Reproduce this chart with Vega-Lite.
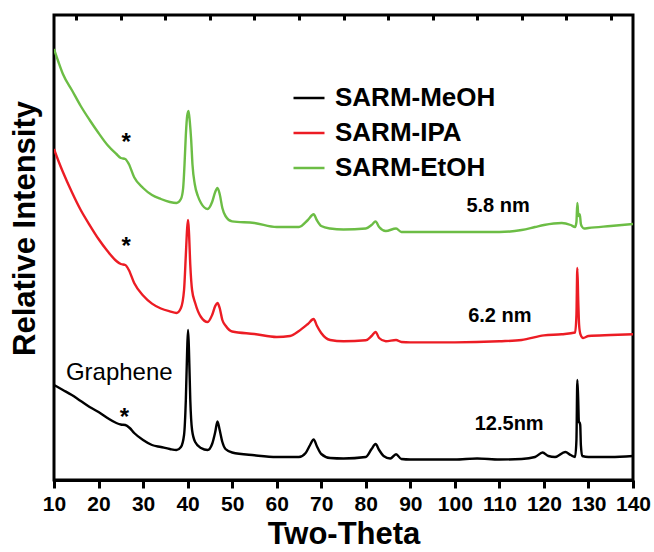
{
  "$schema": "https://vega.github.io/schema/vega-lite/v6.json",
  "width": 579,
  "height": 465,
  "autosize": "none",
  "padding": {"left": 54, "top": 15, "right": 21, "bottom": 72},
  "background": "white",
  "config": {
    "view": {"stroke": "black", "strokeWidth": 3},
    "font": "Liberation Sans",
    "legend": {
      "orient": "none", "legendX": 238, "legendY": 66, "padding": 0,
      "symbolType": "stroke", "symbolSize": 961, "symbolStrokeWidth": 2.5,
      "labelFontSize": 26, "labelFontWeight": "bold", "labelFont": "Liberation Sans",
      "labelColor": "black", "rowPadding": 5, "labelOffset": 9, "labelLimit": 400
    }
  },
  "encoding": {
    "y": {
      "field": "v", "type": "quantitative",
      "scale": {"domain": [0, 465], "nice": false, "zero": false},
      "axis": {
        "title": "Relative Intensity", "labels": false, "ticks": false, "domain": false, "grid": false,
        "titleFontSize": 31, "titleFontWeight": "bold", "titleFont": "Liberation Sans", "titleColor": "black",
        "titleX": -20, "titleY": 213, "titleAngle": -90, "titleAlign": "center", "titleBaseline": "alphabetic"
      }
    }
  },
  "layer": [
    {
      "data": {"values": [
        {"s":"SARM-MeOH","t":10,"v":95},{"s":"SARM-MeOH","t":12,"v":90},{"s":"SARM-MeOH","t":14,"v":85},{"s":"SARM-MeOH","t":16,"v":79},{"s":"SARM-MeOH","t":18,"v":73},{"s":"SARM-MeOH","t":20,"v":68},{"s":"SARM-MeOH","t":22,"v":62},{"s":"SARM-MeOH","t":24,"v":57},{"s":"SARM-MeOH","t":25,"v":55.5},{"s":"SARM-MeOH","t":26,"v":55},{"s":"SARM-MeOH","t":27,"v":52},{"s":"SARM-MeOH","t":28,"v":47},{"s":"SARM-MeOH","t":30,"v":40},{"s":"SARM-MeOH","t":32,"v":35},{"s":"SARM-MeOH","t":34,"v":33},{"s":"SARM-MeOH","t":36,"v":31},{"s":"SARM-MeOH","t":37.5,"v":30},{"s":"SARM-MeOH","t":38.5,"v":33},{"s":"SARM-MeOH","t":39.2,"v":45},{"s":"SARM-MeOH","t":39.6,"v":80},{"s":"SARM-MeOH","t":39.9,"v":130},{"s":"SARM-MeOH","t":40.1,"v":150},{"s":"SARM-MeOH","t":40.3,"v":130},{"s":"SARM-MeOH","t":40.6,"v":80},{"s":"SARM-MeOH","t":41.0,"v":50},{"s":"SARM-MeOH","t":41.7,"v":38},{"s":"SARM-MeOH","t":43,"v":32},{"s":"SARM-MeOH","t":44.5,"v":30},{"s":"SARM-MeOH","t":45.5,"v":36},{"s":"SARM-MeOH","t":46.2,"v":48},{"s":"SARM-MeOH","t":46.7,"v":58.6},{"s":"SARM-MeOH","t":47.2,"v":50},{"s":"SARM-MeOH","t":47.8,"v":38},{"s":"SARM-MeOH","t":48.5,"v":31},{"s":"SARM-MeOH","t":50,"v":27.5},{"s":"SARM-MeOH","t":55,"v":24.7},{"s":"SARM-MeOH","t":60,"v":23},{"s":"SARM-MeOH","t":65,"v":23},{"s":"SARM-MeOH","t":66.5,"v":27},{"s":"SARM-MeOH","t":67.5,"v":35},{"s":"SARM-MeOH","t":68.3,"v":40.6},{"s":"SARM-MeOH","t":69,"v":34},{"s":"SARM-MeOH","t":70,"v":26},{"s":"SARM-MeOH","t":72,"v":22},{"s":"SARM-MeOH","t":75,"v":21.5},{"s":"SARM-MeOH","t":80,"v":23},{"s":"SARM-MeOH","t":81.3,"v":31},{"s":"SARM-MeOH","t":82.2,"v":36},{"s":"SARM-MeOH","t":83,"v":30},{"s":"SARM-MeOH","t":84,"v":24},{"s":"SARM-MeOH","t":85.5,"v":21.5},{"s":"SARM-MeOH","t":86.8,"v":25.8},{"s":"SARM-MeOH","t":88,"v":21},{"s":"SARM-MeOH","t":90,"v":20.5},{"s":"SARM-MeOH","t":95,"v":20.5},{"s":"SARM-MeOH","t":100,"v":20.5},{"s":"SARM-MeOH","t":105,"v":21.5},{"s":"SARM-MeOH","t":110,"v":20.5},{"s":"SARM-MeOH","t":115,"v":21},{"s":"SARM-MeOH","t":118,"v":23},{"s":"SARM-MeOH","t":119.7,"v":27.5},{"s":"SARM-MeOH","t":121,"v":24},{"s":"SARM-MeOH","t":122.5,"v":23},{"s":"SARM-MeOH","t":124.8,"v":28},{"s":"SARM-MeOH","t":126,"v":25},{"s":"SARM-MeOH","t":127,"v":23},{"s":"SARM-MeOH","t":127.3,"v":40},{"s":"SARM-MeOH","t":127.5,"v":100},{"s":"SARM-MeOH","t":127.7,"v":80},{"s":"SARM-MeOH","t":127.85,"v":58},{"s":"SARM-MeOH","t":128.0,"v":57.5},{"s":"SARM-MeOH","t":128.15,"v":55},{"s":"SARM-MeOH","t":128.3,"v":34.6},{"s":"SARM-MeOH","t":128.6,"v":24},{"s":"SARM-MeOH","t":130,"v":23},{"s":"SARM-MeOH","t":135,"v":23},{"s":"SARM-MeOH","t":140,"v":24},

        {"s":"SARM-IPA","t":10,"v":331},{"s":"SARM-IPA","t":11,"v":319},{"s":"SARM-IPA","t":12,"v":308},{"s":"SARM-IPA","t":14,"v":288},{"s":"SARM-IPA","t":16,"v":270},{"s":"SARM-IPA","t":18,"v":255},{"s":"SARM-IPA","t":20,"v":241},{"s":"SARM-IPA","t":22,"v":229},{"s":"SARM-IPA","t":24,"v":219},{"s":"SARM-IPA","t":25,"v":216},{"s":"SARM-IPA","t":26,"v":215},{"s":"SARM-IPA","t":26.8,"v":210},{"s":"SARM-IPA","t":28,"v":197},{"s":"SARM-IPA","t":30,"v":184.5},{"s":"SARM-IPA","t":32,"v":176.4},{"s":"SARM-IPA","t":34,"v":171.5},{"s":"SARM-IPA","t":36,"v":168.6},{"s":"SARM-IPA","t":37.5,"v":167},{"s":"SARM-IPA","t":38.5,"v":172},{"s":"SARM-IPA","t":39.2,"v":190},{"s":"SARM-IPA","t":39.6,"v":225},{"s":"SARM-IPA","t":39.9,"v":252},{"s":"SARM-IPA","t":40.1,"v":260},{"s":"SARM-IPA","t":40.3,"v":248},{"s":"SARM-IPA","t":40.6,"v":215},{"s":"SARM-IPA","t":41.0,"v":190},{"s":"SARM-IPA","t":41.7,"v":177},{"s":"SARM-IPA","t":43,"v":163},{"s":"SARM-IPA","t":44.5,"v":158},{"s":"SARM-IPA","t":45.5,"v":165},{"s":"SARM-IPA","t":46.2,"v":174},{"s":"SARM-IPA","t":46.7,"v":177},{"s":"SARM-IPA","t":47.2,"v":172},{"s":"SARM-IPA","t":47.8,"v":160},{"s":"SARM-IPA","t":48.5,"v":154.5},{"s":"SARM-IPA","t":50,"v":148.5},{"s":"SARM-IPA","t":55,"v":146},{"s":"SARM-IPA","t":60,"v":143},{"s":"SARM-IPA","t":63,"v":144},{"s":"SARM-IPA","t":65,"v":149},{"s":"SARM-IPA","t":67,"v":156},{"s":"SARM-IPA","t":68.3,"v":161},{"s":"SARM-IPA","t":69,"v":154.5},{"s":"SARM-IPA","t":70,"v":147},{"s":"SARM-IPA","t":72,"v":140},{"s":"SARM-IPA","t":75,"v":138.7},{"s":"SARM-IPA","t":80,"v":139.7},{"s":"SARM-IPA","t":81.3,"v":144},{"s":"SARM-IPA","t":82.2,"v":148},{"s":"SARM-IPA","t":83,"v":142},{"s":"SARM-IPA","t":84.5,"v":138.7},{"s":"SARM-IPA","t":86.8,"v":140},{"s":"SARM-IPA","t":88,"v":138},{"s":"SARM-IPA","t":90,"v":137.6},{"s":"SARM-IPA","t":100,"v":137.6},{"s":"SARM-IPA","t":110,"v":138.7},{"s":"SARM-IPA","t":115,"v":140},{"s":"SARM-IPA","t":120,"v":144.6},{"s":"SARM-IPA","t":124,"v":145.7},{"s":"SARM-IPA","t":127,"v":147.5},{"s":"SARM-IPA","t":127.3,"v":165},{"s":"SARM-IPA","t":127.5,"v":212},{"s":"SARM-IPA","t":127.7,"v":180},{"s":"SARM-IPA","t":127.9,"v":155},{"s":"SARM-IPA","t":128.2,"v":145.7},{"s":"SARM-IPA","t":128.8,"v":142},{"s":"SARM-IPA","t":130,"v":144},{"s":"SARM-IPA","t":135,"v":145},{"s":"SARM-IPA","t":140,"v":145.7},

        {"s":"SARM-EtOH","t":10,"v":431},{"s":"SARM-EtOH","t":11,"v":418},{"s":"SARM-EtOH","t":12,"v":406},{"s":"SARM-EtOH","t":14,"v":390},{"s":"SARM-EtOH","t":16,"v":374},{"s":"SARM-EtOH","t":18,"v":360},{"s":"SARM-EtOH","t":20,"v":347},{"s":"SARM-EtOH","t":22,"v":335},{"s":"SARM-EtOH","t":24,"v":326},{"s":"SARM-EtOH","t":25,"v":322},{"s":"SARM-EtOH","t":26,"v":321},{"s":"SARM-EtOH","t":26.8,"v":316},{"s":"SARM-EtOH","t":28,"v":302.7},{"s":"SARM-EtOH","t":30,"v":292},{"s":"SARM-EtOH","t":32,"v":285},{"s":"SARM-EtOH","t":34,"v":281},{"s":"SARM-EtOH","t":36,"v":278},{"s":"SARM-EtOH","t":37.5,"v":277},{"s":"SARM-EtOH","t":38.5,"v":281},{"s":"SARM-EtOH","t":39.0,"v":292},{"s":"SARM-EtOH","t":39.3,"v":315},{"s":"SARM-EtOH","t":39.6,"v":345},{"s":"SARM-EtOH","t":39.9,"v":364},{"s":"SARM-EtOH","t":40.2,"v":369},{"s":"SARM-EtOH","t":40.5,"v":358},{"s":"SARM-EtOH","t":40.8,"v":340},{"s":"SARM-EtOH","t":41.1,"v":315},{"s":"SARM-EtOH","t":41.6,"v":296},{"s":"SARM-EtOH","t":42.3,"v":284},{"s":"SARM-EtOH","t":43,"v":277},{"s":"SARM-EtOH","t":44.5,"v":271},{"s":"SARM-EtOH","t":45.5,"v":278},{"s":"SARM-EtOH","t":46.2,"v":288},{"s":"SARM-EtOH","t":46.7,"v":292},{"s":"SARM-EtOH","t":47.2,"v":286},{"s":"SARM-EtOH","t":47.8,"v":272},{"s":"SARM-EtOH","t":48.5,"v":264},{"s":"SARM-EtOH","t":50,"v":258.6},{"s":"SARM-EtOH","t":55,"v":257},{"s":"SARM-EtOH","t":60,"v":253},{"s":"SARM-EtOH","t":65,"v":253},{"s":"SARM-EtOH","t":67,"v":260},{"s":"SARM-EtOH","t":68.3,"v":265.7},{"s":"SARM-EtOH","t":69,"v":260},{"s":"SARM-EtOH","t":70,"v":254},{"s":"SARM-EtOH","t":72,"v":251.5},{"s":"SARM-EtOH","t":75,"v":250.5},{"s":"SARM-EtOH","t":80,"v":251.5},{"s":"SARM-EtOH","t":81.3,"v":255},{"s":"SARM-EtOH","t":82.2,"v":258.6},{"s":"SARM-EtOH","t":83,"v":253},{"s":"SARM-EtOH","t":84.5,"v":249},{"s":"SARM-EtOH","t":86.8,"v":251.5},{"s":"SARM-EtOH","t":88,"v":248},{"s":"SARM-EtOH","t":90,"v":248},{"s":"SARM-EtOH","t":100,"v":248},{"s":"SARM-EtOH","t":110,"v":248},{"s":"SARM-EtOH","t":115,"v":250},{"s":"SARM-EtOH","t":118,"v":253},{"s":"SARM-EtOH","t":120,"v":255},{"s":"SARM-EtOH","t":124,"v":257},{"s":"SARM-EtOH","t":126,"v":255},{"s":"SARM-EtOH","t":127,"v":253},{"s":"SARM-EtOH","t":127.3,"v":258},{"s":"SARM-EtOH","t":127.5,"v":277},{"s":"SARM-EtOH","t":127.7,"v":266},{"s":"SARM-EtOH","t":127.85,"v":264},{"s":"SARM-EtOH","t":128.05,"v":265.7},{"s":"SARM-EtOH","t":128.3,"v":256},{"s":"SARM-EtOH","t":128.6,"v":253},{"s":"SARM-EtOH","t":129,"v":251.5},{"s":"SARM-EtOH","t":130,"v":252},{"s":"SARM-EtOH","t":135,"v":254},{"s":"SARM-EtOH","t":140,"v":256}
      ]},
      "mark": {"type": "line", "strokeWidth": 2.4, "clip": true, "interpolate": "monotone"},
      "encoding": {
        "x": {
          "field": "t", "type": "quantitative",
          "scale": {"domain": [10, 140], "nice": false, "zero": false},
          "axis": {
            "values": [10,20,30,40,50,60,70,80,90,100,110,120,130,140],
            "title": "Two-Theta", "grid": false,
            "tickSize": 8, "tickWidth": 3, "tickColor": "black",
            "domainColor": "black", "domainWidth": 3,
            "labelFontSize": 21, "labelFontWeight": "bold", "labelFont": "Liberation Sans", "labelColor": "black",
            "labelPadding": 5, "labelFlush": false, "labelOverlap": false,
            "titleFontSize": 31, "titleFontWeight": "bold", "titleFont": "Liberation Sans", "titleColor": "black",
            "titlePadding": 5
          }
        },
        "color": {
          "field": "s", "type": "nominal", "sort": null,
          "scale": {"domain": ["SARM-MeOH", "SARM-IPA", "SARM-EtOH"], "range": ["#000000", "#ec1c24", "#6cbd45"]},
          "legend": {"title": null}
        }
      }
    },
    {
      "data": {"values": [
        {"t": 26.2, "v": 330, "label": "*"},
        {"t": 26.2, "v": 225.6, "label": "*"},
        {"t": 25.8, "v": 55, "label": "*"}
      ]},
      "mark": {"type": "text", "fontSize": 24, "fontWeight": "bold", "font": "Liberation Sans", "color": "black", "align": "center", "baseline": "alphabetic"},
      "encoding": {
        "x": {
          "field": "t", "type": "quantitative",
          "axis": {
            "values": [15,25,35,45,55,65,75,85,95,105,115,125,135],
            "labels": false, "domain": false, "grid": false, "title": null,
            "tickSize": -5, "tickWidth": 3, "tickColor": "black"
          }
        },
        "text": {"field": "label"}
      }
    },
    {
      "data": {"values": [
        {"t": 109.7, "v": 268, "label": "5.8 nm"},
        {"t": 110.1, "v": 158, "label": "6.2 nm"},
        {"t": 112.2, "v": 50, "label": "12.5nm"}
      ]},
      "mark": {"type": "text", "fontSize": 20, "fontWeight": "bold", "font": "Liberation Sans", "color": "black", "align": "center", "baseline": "alphabetic"},
      "encoding": {
        "x": {"field": "t", "type": "quantitative", "axis": null},
        "text": {"field": "label"}
      }
    },
    {
      "data": {"values": [
        {"t": 24.66, "v": 100, "label": "Graphene"}
      ]},
      "mark": {"type": "text", "fontSize": 24, "fontWeight": "normal", "font": "Liberation Sans", "color": "black", "align": "center", "baseline": "alphabetic"},
      "encoding": {
        "x": {"field": "t", "type": "quantitative", "axis": null},
        "text": {"field": "label"}
      }
    }
  ],
  "resolve": {"axis": {"x": "independent"}}
}
